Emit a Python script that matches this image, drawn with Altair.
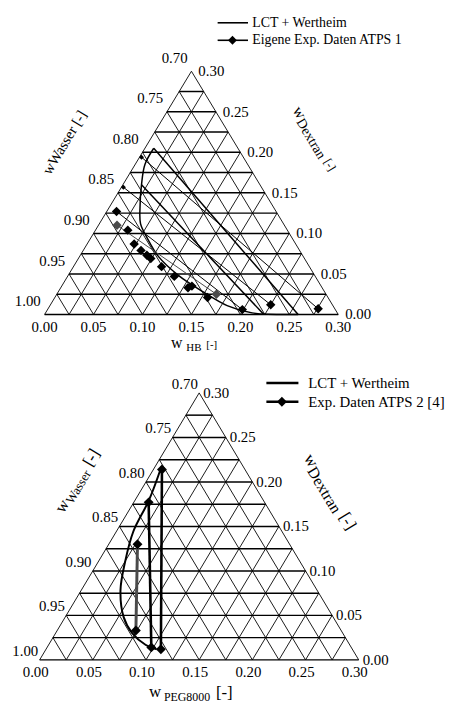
import altair as alt
import pandas as pd

FONT = "Liberation Serif, Times New Roman, serif"
SIDE = 0.30
STEP = 0.025
TICKS = [0.00, 0.05, 0.10, 0.15, 0.20, 0.25, 0.30]

# ---------------- ATPS 1 : HB / Dextran / Wasser ----------------
lct1_hb = [0.009, 0.010, 0.019, 0.031, 0.042, 0.057, 0.080, 0.113, 0.148, 0.181, 0.211, 0.259]
lct1_dex = [0.205, 0.185, 0.160, 0.133, 0.112, 0.095, 0.072, 0.048, 0.028, 0.011, 0.002, 0.000]
lct1_tie_hb_a = [0.009, 0.019]
lct1_tie_dex_a = [0.205, 0.160]
lct1_tie_hb_b = [0.259, 0.224]
lct1_tie_dex_b = [0.000, 0.000]

exp1_hb = [0.002, 0.002, 0.010, 0.019, 0.033, 0.048, 0.059, 0.068, 0.074, 0.090,
           0.109, 0.130, 0.133, 0.156, 0.163, 0.199, 0.225, 0.276]
exp1_dex = [0.194, 0.157, 0.127, 0.110, 0.104, 0.087, 0.079, 0.073, 0.069, 0.059,
            0.047, 0.033, 0.035, 0.021, 0.025, 0.006, 0.012, 0.007]
exp1_kind = ["small", "small", "black", "gray", "black", "black", "black", "black", "black", "black",
             "black", "black", "black", "black", "gray", "black", "black", "black"]
exp1_tie_from = [0, 1, 2, 3]
exp1_tie_to = [17, 16, 15, 14]
exp1_tie_kind = ["black", "black", "black", "gray"]

# ---------------- ATPS 2 : PEG8000 / Dextran / Wasser ----------------
lct2_peg = [0.006, 0.013, 0.016, 0.025, 0.037, 0.055, 0.072, 0.091, 0.104]
lct2_dex = [0.217, 0.180, 0.144, 0.111, 0.078, 0.048, 0.030, 0.017, 0.012]
exp2_peg = [0.008, 0.014, 0.027, 0.074, 0.098, 0.108]
exp2_dex = [0.214, 0.177, 0.130, 0.033, 0.014, 0.012]
exp2_tie_from = [0, 1, 2]
exp2_tie_to = [5, 4, 3]
exp2_tie_kind = ["black", "black", "gray"]

COLORS = {"black": "#000000", "gray": "#4a4a4a", "small": "#000000"}


def to_xy(a, d):
    return a + d / 2.0, d


def grid_frames():
    n = int(round(SIDE / STEP))
    horiz, diag = [], []
    for k in range(n + 1):
        t = k * STEP
        if k < n:
            horiz.append((*to_xy(0, t), *to_xy(SIDE - t, t)))
            diag.append((*to_xy(t, 0), *to_xy(t, SIDE - t)))
        if k > 0:
            diag.append((*to_xy(t, 0), *to_xy(0, t)))
    cols = ["x", "y", "x2", "y2"]
    return pd.DataFrame(horiz, columns=cols), pd.DataFrame(diag, columns=cols)


def panel(cfg):
    xs = alt.Scale(domain=cfg["xdom"], nice=False, zero=False)
    ys = alt.Scale(domain=cfg["ydom"], nice=False, zero=False)

    def enc_pt():
        return dict(x=alt.X("x:Q", scale=xs, axis=None), y=alt.Y("y:Q", scale=ys, axis=None))

    def enc_seg():
        return dict(x=alt.X("x:Q", scale=xs, axis=None), y=alt.Y("y:Q", scale=ys, axis=None),
                    x2=alt.X2("x2:Q"), y2=alt.Y2("y2:Q"))

    layers = []
    hdf, ddf = grid_frames()
    layers.append(alt.Chart(ddf).mark_rule(color="black", strokeWidth=0.9).encode(**enc_seg()))
    layers.append(alt.Chart(hdf).mark_rule(color="black", strokeWidth=1.5).encode(**enc_seg()))

    # tick labels
    bottom = pd.DataFrame([dict(zip(["x", "y"], to_xy(v, 0)), text=f"{v:.2f}") for v in TICKS])
    right = pd.DataFrame([dict(zip(["x", "y"], to_xy(SIDE - v, v)), text=f"{v:.2f}") for v in TICKS])
    left = pd.DataFrame([dict(zip(["x", "y"], to_xy(0, v)), text=f"{1 - v:.2f}") for v in TICKS])
    tk = dict(font=FONT, fontSize=cfg["tick_fs"], color="black", baseline="middle")
    bdx, bdy = cfg["bottom_off"]
    rdx, rdy = cfg["right_off"]
    ldx, ldy = cfg["left_off"]
    layers.append(alt.Chart(bottom).mark_text(align="center", dx=bdx, dy=bdy, **tk)
                  .encode(text="text:N", **enc_pt()))
    layers.append(alt.Chart(right).mark_text(align="left", dx=rdx, dy=rdy, **tk)
                  .encode(text="text:N", **enc_pt()))
    layers.append(alt.Chart(left).mark_text(align="center", dx=ldx, dy=ldy, **tk)
                  .encode(text="text:N", **enc_pt()))

    # axis titles (pieces for subscripts)
    for (ax, ay, angle, align, pieces) in cfg["titles"]:
        for (txt, fs, dx, dy) in pieces:
            df = pd.DataFrame([{"x": ax, "y": ay, "text": txt}])
            kw = dict(font=FONT, fontSize=fs, color="black", baseline="middle",
                      align=align, dx=dx, dy=dy)
            if angle:
                kw["angle"] = angle
            layers.append(alt.Chart(df).mark_text(**kw).encode(text="text:N", **enc_pt()))

    # model curve
    cx, cy = zip(*[to_xy(a, d) for a, d in zip(cfg["curve_a"], cfg["curve_d"])])
    cdf = pd.DataFrame({"x": cx, "y": cy, "i": range(len(cx))})
    layers.append(alt.Chart(cdf).mark_line(color="black", strokeWidth=cfg["curve_w"],
                                           interpolate="catmull-rom")
                  .encode(order="i:Q", **enc_pt()))
    if cfg.get("lct_ties"):
        rows = []
        for a1, d1, a2, d2 in zip(*cfg["lct_ties"]):
            rows.append((*to_xy(a1, d1), *to_xy(a2, d2)))
        tdf = pd.DataFrame(rows, columns=["x", "y", "x2", "y2"])
        layers.append(alt.Chart(tdf).mark_rule(color="black", strokeWidth=cfg["curve_w"])
                      .encode(**enc_seg()))

    # experimental tie lines
    ea, ed = cfg["exp_a"], cfg["exp_d"]
    for kind in ["black", "gray"]:
        rows = []
        for f, t, k in zip(cfg["tie_from"], cfg["tie_to"], cfg["tie_kind"]):
            if k == kind:
                rows.append((*to_xy(ea[f], ed[f]), *to_xy(ea[t], ed[t])))
        if rows:
            tdf = pd.DataFrame(rows, columns=["x", "y", "x2", "y2"])
            layers.append(alt.Chart(tdf).mark_rule(color=COLORS[kind], strokeWidth=cfg["tie_w"][kind])
                          .encode(**enc_seg()))

    # experimental points
    kinds = cfg.get("exp_kind", ["black"] * len(ea))
    for kind, size in cfg["sizes"].items():
        pts = [to_xy(a, d) for a, d, k in zip(ea, ed, kinds) if k == kind]
        if pts:
            pdf = pd.DataFrame(pts, columns=["x", "y"])
            layers.append(alt.Chart(pdf).mark_point(shape="diamond", filled=True, opacity=1,
                                                    size=size, color=COLORS[kind])
                          .encode(**enc_pt()))

    # legend (manual)
    dummy = pd.DataFrame({"v": [0]})
    lx1, lx2, dxp, tx, y1, y2 = cfg["legend_pos"]
    lw = cfg["legend_w"]
    layers.append(alt.Chart(dummy).mark_rule(color="black", strokeWidth=lw)
                  .encode(x=alt.value(lx1), x2=alt.value(lx2), y=alt.value(y1)))
    layers.append(alt.Chart(dummy).mark_rule(color="black", strokeWidth=lw)
                  .encode(x=alt.value(lx1), x2=alt.value(lx2), y=alt.value(y2)))
    layers.append(alt.Chart(dummy).mark_point(shape="diamond", filled=True, opacity=1,
                                              size=cfg["legend_marker"], color="black")
                  .encode(x=alt.value(dxp), y=alt.value(y2)))
    for yy, txt in [(y1, cfg["legend_text"][0]), (y2, cfg["legend_text"][1])]:
        layers.append(alt.Chart(dummy).mark_text(font=FONT, fontSize=cfg["legend_fs"], color="black",
                                                 align="left", baseline="middle")
                      .encode(x=alt.value(tx), y=alt.value(yy), text=alt.value(txt)))

    return alt.layer(*layers).properties(width=cfg["width"], height=cfg["height"])


top_cfg = dict(
    width=442, height=352,
    xdom=[-0.037374, 0.409091], ydom=[-0.056098, 0.373171],
    tick_fs=15, bottom_off=(0, 13), right_off=(7, 0), left_off=(-17, -13.5),
    titles=[
        (0.0202, 0.2122, 301, "center", [("wWasser [-]", 15, 0, 0)]),
        (0.2764, 0.2170, 59, "left", [("w", 16, -36.5, 0), ("Dextran", 14, -24.5, 4), ("[-]", 12, 24.5, 1)]),
        (0.15, -0.0354, 0, "center", [("w", 16, -15, 0), ("HB", 11, 2.5, 5), ("[-]", 11, 20.5, 2)]),
    ],
    curve_a=lct1_hb, curve_d=lct1_dex, curve_w=1.5,
    lct_ties=(lct1_tie_hb_a, lct1_tie_dex_a, lct1_tie_hb_b, lct1_tie_dex_b),
    exp_a=exp1_hb, exp_d=exp1_dex, exp_kind=exp1_kind,
    tie_from=exp1_tie_from, tie_to=exp1_tie_to, tie_kind=exp1_tie_kind,
    tie_w={"black": 1.0, "gray": 1.0},
    sizes={"black": 90, "gray": 90, "small": 25},
    legend_pos=(212, 242.7, 227, 247, 11, 28.7), legend_w=1.6, legend_marker=80,
    legend_fs=14, legend_text=["LCT + Wertheim", "Eigene Exp. Daten ATPS 1"],
)

bottom_cfg = dict(
    width=442, height=338,
    xdom=[-0.029751, 0.381183], ydom=[-0.038556, 0.337],
    tick_fs=15, bottom_off=(-4, 12), right_off=(4, 0), left_off=(-14.5, -9),
    titles=[
        (0.0356, 0.2009, 301, "left", [("w", 17, -35.8, 0), ("Wasser", 13, -23.2, 4), ("[-]", 17, 19.1, 0)]),
        (0.2727, 0.1889, 59, "left", [("w", 17, -42.9, 0), ("Dextran", 16, -30.1, 4), ("[-]", 17, 26.4, 0)]),
        (0.15, -0.0363, 0, "center", [("w", 17, -44.6, 0), ("PEG8000", 12, -12.3, 5), ("[-]", 17, 25.4, 1)]),
    ],
    curve_a=lct2_peg, curve_d=lct2_dex, curve_w=2.0,
    exp_a=exp2_peg, exp_d=exp2_dex,
    tie_from=exp2_tie_from, tie_to=exp2_tie_to, tie_kind=exp2_tie_kind,
    tie_w={"black": 2.6, "gray": 3.0},
    sizes={"black": 100},
    legend_pos=(261.3, 293.7, 277, 303.7, 23.3, 42.3), legend_w=2.6, legend_marker=100,
    legend_fs=15, legend_text=["LCT + Wertheim", "Exp. Daten ATPS 2  [4]"],
)

chart = alt.vconcat(panel(top_cfg), panel(bottom_cfg), spacing=0).properties(
    padding=0, background="white"
).configure_view(stroke=None)

chart.save("out.html", embed_options={"renderer": "svg", "actions": False})
